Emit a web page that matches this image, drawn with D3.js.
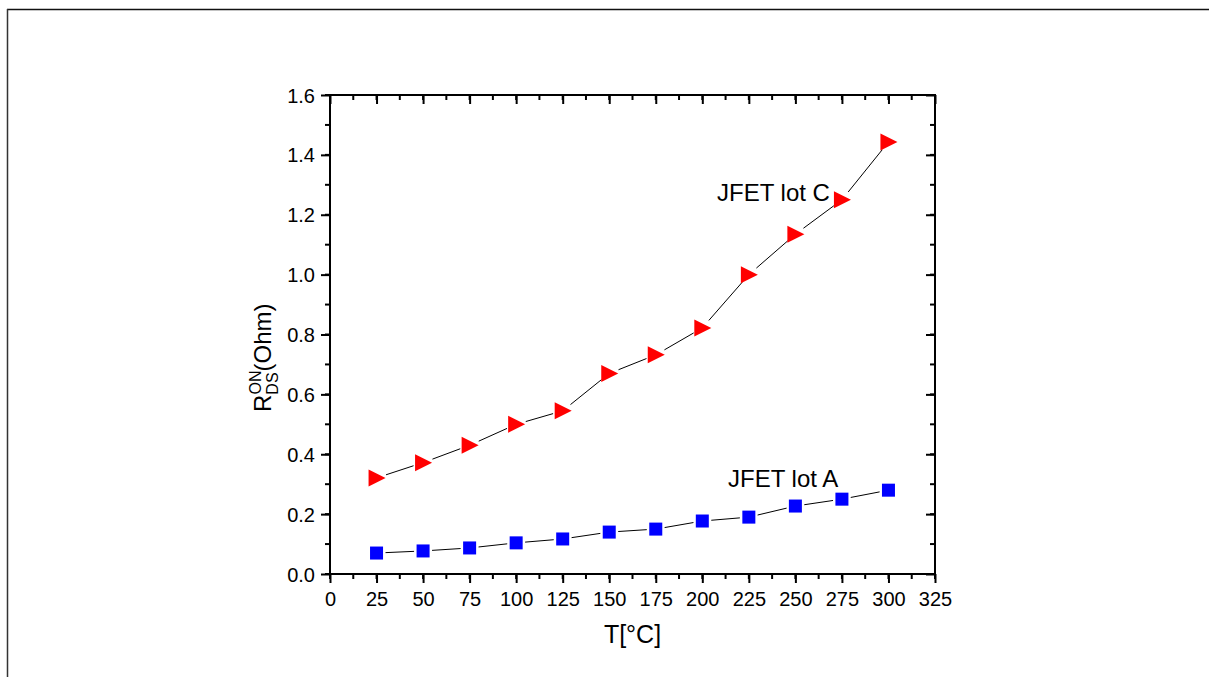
<!DOCTYPE html>
<html><head><meta charset="utf-8">
<script src="https://cdn.jsdelivr.net/npm/d3@7"></script>
<style>body{margin:0;background:#fff;}svg{display:block;font-family:"Liberation Sans",Arial,sans-serif;}</style>
</head><body>
<svg id="c" width="1209" height="677"></svg>
<script>
const temps = [25, 50, 75, 100, 125, 150, 175, 200, 225, 250, 275, 300];
const lotC = [0.321, 0.372, 0.430, 0.500, 0.545, 0.670, 0.732, 0.822, 1.000, 1.135, 1.250, 1.443];
const lotA = [0.070, 0.077, 0.087, 0.104, 0.117, 0.140, 0.150, 0.177, 0.190, 0.227, 0.250, 0.280];
const xTicks = [0, 25, 50, 75, 100, 125, 150, 175, 200, 225, 250, 275, 300, 325];
const yTicks = [0.0, 0.2, 0.4, 0.6, 0.8, 1.0, 1.2, 1.4, 1.6];
const seriesLabels = ["JFET lot C", "JFET lot A"];

const svg = d3.select("#c");
// outer frame
svg.append("line").attr("x1",7).attr("x2",1209).attr("y1",9.5).attr("y2",9.5).attr("stroke","#111").attr("stroke-width",1.5);
svg.append("line").attr("x1",7.5).attr("x2",7.5).attr("y1",9).attr("y2",677).attr("stroke","#333").attr("stroke-width",1.5);

const L=330, R=935, T=95, B=574;
const x = d3.scaleLinear().domain([0,325]).range([L,R]);
const y = d3.scaleLinear().domain([0,1.6]).range([B,T]);

const minorX = d3.range(0, 325.1, 12.5);
const minorY = d3.range(0, 1.601, 0.1);

const g = svg.append("g");
const bx = g.append("g").attr("transform",`translate(0,${B})`)
  .call(d3.axisBottom(x).tickValues(xTicks).tickSize(9).tickFormat(d3.format("d")));
const by = g.append("g").attr("transform",`translate(${L},0)`)
  .call(d3.axisLeft(y).tickValues(yTicks).tickSize(9).tickFormat(d3.format(".1f")));
const tx = g.append("g").attr("transform",`translate(0,${T})`)
  .call(d3.axisBottom(x).tickValues(xTicks).tickSize(9).tickFormat(""));
const ry = g.append("g").attr("transform",`translate(${R},0)`)
  .call(d3.axisLeft(y).tickValues(yTicks).tickSize(9).tickFormat(""));
const minorG = g.append("g").attr("stroke","#000").attr("stroke-width",2);
minorX.forEach(v=>{
  minorG.append("line").attr("x1",x(v)).attr("x2",x(v)).attr("y1",B).attr("y2",B+5);
  minorG.append("line").attr("x1",x(v)).attr("x2",x(v)).attr("y1",T).attr("y2",T+5);
});
minorY.forEach(v=>{
  minorG.append("line").attr("x1",L-5).attr("x2",L).attr("y1",y(v)).attr("y2",y(v));
  minorG.append("line").attr("x1",R-5).attr("x2",R).attr("y1",y(v)).attr("y2",y(v));
});
[bx,by,tx,ry].forEach(a=>{
  a.select(".domain").attr("stroke","#000").attr("stroke-width",2);
  a.selectAll(".tick line").attr("stroke","#000").attr("stroke-width",2);
  a.selectAll("text").attr("fill","#000").style("font-size","20px").style("font-family","'Liberation Sans',Arial,sans-serif");
});
bx.selectAll(".domain").attr("d",`M${L-1},0H${R+1}`);
tx.selectAll(".domain").attr("d",`M${L-1},0H${R+1}`);
by.selectAll(".domain").attr("d",`M0,${T-1}V${B+1}`);
ry.selectAll(".domain").attr("d",`M0,${T-1}V${B+1}`);
bx.selectAll("text").attr("y",32).attr("dy",0);
by.selectAll("text").attr("x",-15).attr("dy","0.35em");

// axis titles
svg.append("text").attr("x",(L+R)/2).attr("y",643).attr("text-anchor","middle")
  .style("font-size","25px").attr("fill","#000").text("T[°C]");
const yl = svg.append("text").attr("transform",`translate(271,412) rotate(-90)`)
  .attr("text-anchor","start").style("font-size","24px").attr("fill","#000");
yl.append("tspan").text("R");
yl.append("tspan").attr("dy",7).style("font-size","16px").text("DS");
yl.append("tspan").attr("dx",-22).attr("dy",-17).style("font-size","16px").text("ON");
yl.append("tspan").attr("dx",-1).attr("dy",10).text("(Ohm)");

// lines with gaps near markers
function drawLine(vals, gap){
  const pts = temps.map((t,i)=>[x(t), y(vals[i])]);
  for(let i=0;i<pts.length-1;i++){
    const [x1,y1]=pts[i],[x2,y2]=pts[i+1];
    const dx=x2-x1, dy=y2-y1, len=Math.hypot(dx,dy);
    if(len<=2*gap) continue;
    const ux=dx/len, uy=dy/len;
    svg.append("line").attr("x1",x1+ux*gap).attr("y1",y1+uy*gap)
      .attr("x2",x2-ux*gap).attr("y2",y2-uy*gap).attr("stroke","#000").attr("stroke-width",1);
  }
}
drawLine(lotC, 10);
drawLine(lotA, 9);

// markers
svg.append("g").selectAll("path").data(temps).join("path")
  .attr("d",(t,i)=>{const cx=x(t), cy=y(lotC[i]); return `M${cx-8},${cy-8.5}L${cx+9},${cy}L${cx-8},${cy+8.5}Z`;})
  .attr("fill","#ff0000");
svg.append("g").selectAll("rect").data(temps).join("rect")
  .attr("x",t=>x(t)-6.5).attr("y",(t,i)=>y(lotA[i])-6.5).attr("width",13).attr("height",13)
  .attr("fill","#0000ff");

// series labels
svg.append("text").attr("x",717).attr("y",201).style("font-size","24px").attr("fill","#000").text(seriesLabels[0]);
svg.append("text").attr("x",728).attr("y",487).style("font-size","24px").attr("fill","#000").text(seriesLabels[1]);
</script>
</body></html>
